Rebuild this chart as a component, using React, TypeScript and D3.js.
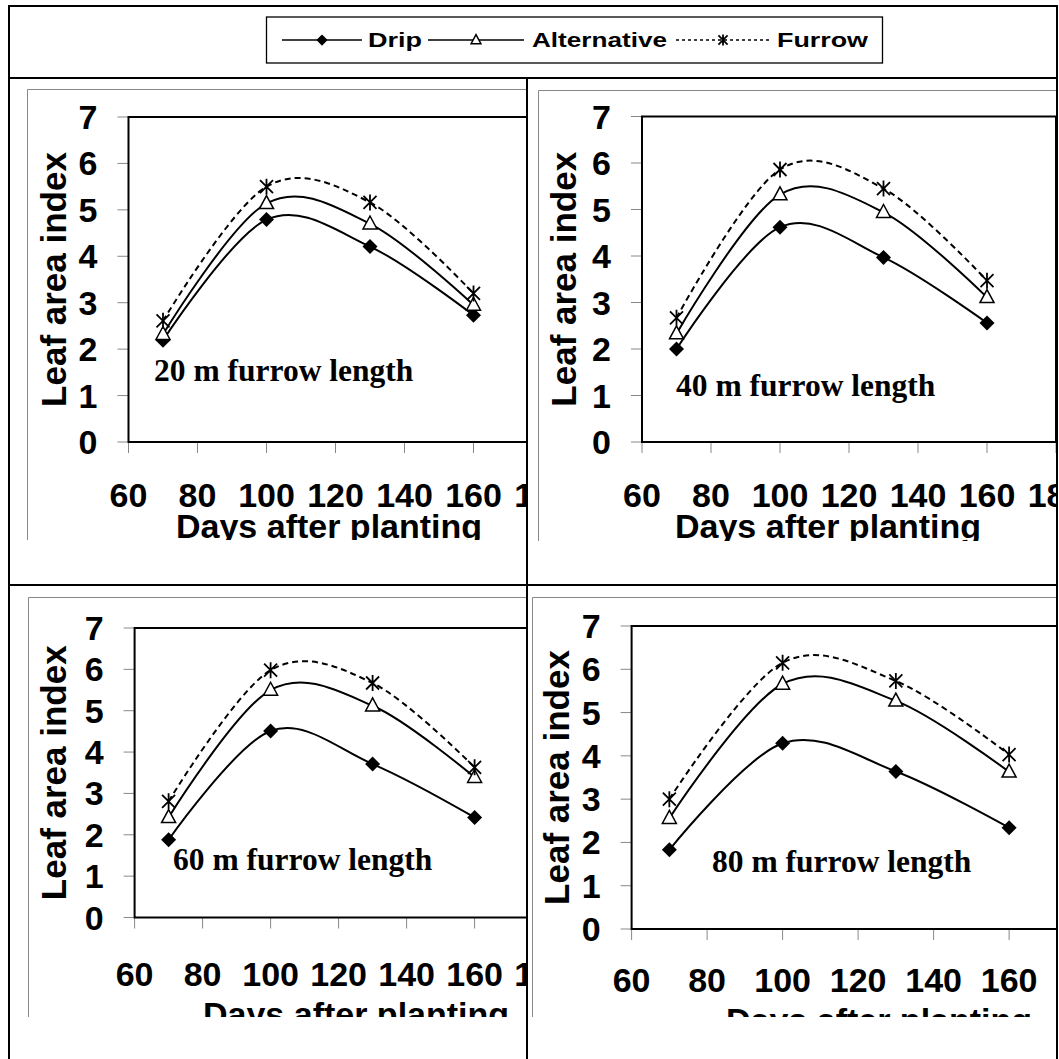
import React from 'react';
import * as d3 from 'd3';

const days = [70, 100, 130, 160];
const xTickValues = [60, 80, 100, 120, 140, 160, 180];
const yTickValues = [0, 1, 2, 3, 4, 5, 6, 7];
const seriesNames = ['Drip', 'Alternative', 'Furrow'];
const panelTitles = ['20 m furrow length', '40 m furrow length', '60 m furrow length', '80 m furrow length'];
const xAxisTitle = 'Days after planting';
const yAxisTitle = 'Leaf area index';

const drip20 = [2.19, 4.79, 4.21, 2.73];
const alt20 = [2.32, 5.14, 4.7, 2.95];
const furrow20 = [2.61, 5.5, 5.16, 3.2];
const drip40 = [2.0, 4.62, 3.97, 2.56];
const alt40 = [2.33, 5.32, 4.94, 3.11];
const furrow40 = [2.67, 5.86, 5.45, 3.47];
const drip60 = [1.88, 4.51, 3.71, 2.42];
const alt60 = [2.42, 5.5, 5.12, 3.39];
const furrow60 = [2.81, 5.98, 5.67, 3.63];
const drip80 = [1.83, 4.29, 3.64, 2.34];
const alt80 = [2.56, 5.66, 5.27, 3.63];
const furrow80 = [3.0, 6.15, 5.73, 4.03];

const panelSeries = [
  [drip20, alt20, furrow20],
  [drip40, alt40, furrow40],
  [drip60, alt60, furrow60],
  [drip80, alt80, furrow80],
];

const layouts = [
  { cellRight: 526, frameX: 27.5, frameY: 89.5, frameBottom: 540, plotLeft: 128.5, plotTop: 117, plotBottom: 442, px20: 69, yTitleX: 66, tickLabelY: 507, xTitleX: 176, xTitleY: 538, titleX: 154, titleY: 381 },
  { cellRight: 1056, frameX: 538.5, frameY: 90.5, frameBottom: 541, plotLeft: 642, plotTop: 116.5, plotBottom: 442, px20: 69, yTitleX: 576, tickLabelY: 507, xTitleX: 675, xTitleY: 538, titleX: 676, titleY: 396 },
  { cellRight: 526, frameX: 28.5, frameY: 597.5, frameBottom: 1017, plotLeft: 134.6, plotTop: 628, plotBottom: 917.5, px20: 68, yTitleX: 66, tickLabelY: 986, xTitleX: 203, xTitleY: 1026, titleX: 173, titleY: 870 },
  { cellRight: 1056, frameX: 532.5, frameY: 597.5, frameBottom: 1017, plotLeft: 631.6, plotTop: 626, plotBottom: 929, px20: 75.5, yTitleX: 569, tickLabelY: 992, xTitleX: 726, xTitleY: 1032, titleX: 712, titleY: 872 },
];

const SANS = '"Liberation Sans", Arial, sans-serif';
const SERIF = '"Liberation Serif", "Times New Roman", serif';

function Marker({ kind, x, y, s = 1 }: { kind: number; x: number; y: number; s?: number }) {
  if (kind === 0) {
    const r = 7.5 * s;
    return <path d={`M${x},${y - r}L${x + r},${y}L${x},${y + r}L${x - r},${y}Z`} fill="#000" />;
  }
  if (kind === 1) {
    const w = 7 * s;
    const h = 13 * s;
    return (
      <path
        d={`M${x},${y - h * 0.6}L${x + w},${y + h * 0.4}L${x - w},${y + h * 0.4}Z`}
        fill="#fff"
        stroke="#000"
        strokeWidth={1.5}
      />
    );
  }
  const a = 6.5 * s;
  const b = 8 * s;
  return (
    <path
      d={`M${x - a},${y - a}L${x + a},${y + a}M${x - a},${y + a}L${x + a},${y - a}M${x},${y - b}L${x},${y + b}`}
      stroke="#000"
      strokeWidth={1.8}
      fill="none"
    />
  );
}

function Panel({ idx }: { idx: number }) {
  const L = layouts[idx];
  const x = d3.scaleLinear().domain([60, 180]).range([L.plotLeft, L.plotLeft + 6 * L.px20]);
  const y = d3.scaleLinear().domain([0, 7]).range([L.plotBottom, L.plotTop]);
  const line = d3
    .line<number>()
    .x((_, i) => x(days[i]))
    .y((v) => y(v))
    .curve(d3.curveCardinal.tension(0));
  const clipId = `clip${idx}`;
  const series = panelSeries[idx];
  return (
    <g>
      <clipPath id={clipId}>
        <rect x={L.frameX - 1} y={L.frameY - 1} width={L.cellRight - L.frameX + 1} height={L.frameBottom - L.frameY + 1} />
      </clipPath>
      <g clipPath={`url(#${clipId})`}>
        <line x1={L.frameX} y1={L.frameY} x2={L.cellRight + 5} y2={L.frameY} stroke="#888" strokeWidth={1} />
        <line x1={L.frameX} y1={L.frameY} x2={L.frameX} y2={L.frameBottom} stroke="#888" strokeWidth={1} />
        {yTickValues.map((t) => (
          <line key={'yt' + t} x1={L.plotLeft - 11} x2={L.plotLeft} y1={y(t)} y2={y(t)} stroke="#888" strokeWidth={1} />
        ))}
        {xTickValues.map((t) => (
          <line key={'xt' + t} x1={x(t)} x2={x(t)} y1={L.plotBottom} y2={L.plotBottom + 11} stroke="#888" strokeWidth={1} />
        ))}
        <rect
          x={x(60)}
          y={y(7)}
          width={x(180) - x(60)}
          height={y(0) - y(7)}
          fill="none"
          stroke="#000"
          strokeWidth={2}
        />
        {series.map((vals, si) => (
          <path
            key={'l' + si}
            d={line(vals) || ''}
            fill="none"
            stroke="#000"
            strokeWidth={2}
            strokeDasharray={si === 2 ? '6,4' : undefined}
          />
        ))}
        {series.map((vals, si) =>
          vals.map((v, i) => <Marker key={`m${si}-${i}`} kind={si} x={x(days[i])} y={y(v)} />)
        )}
        {yTickValues.map((t) => (
          <text
            key={'yl' + t}
            x={L.plotLeft - 31}
            y={y(t) + 12}
            textAnchor="end"
            fontFamily={SANS}
            fontWeight="bold"
            fontSize={34}
          >
            {t}
          </text>
        ))}
        {xTickValues.map((t) => (
          <text
            key={'xl' + t}
            x={x(t)}
            y={L.tickLabelY}
            textAnchor="middle"
            fontFamily={SANS}
            fontWeight="bold"
            fontSize={34}
          >
            {t}
          </text>
        ))}
        <text
          transform={`translate(${L.yTitleX},${(L.plotTop + L.plotBottom) / 2}) rotate(-90)`}
          textAnchor="middle"
          fontFamily={SANS}
          fontWeight="bold"
          fontSize={35}
        >
          {yAxisTitle}
        </text>
        <text x={L.xTitleX} y={L.xTitleY} fontFamily={SANS} fontWeight="bold" fontSize={34}>
          {xAxisTitle}
        </text>
        <text x={L.titleX} y={L.titleY} fontFamily={SERIF} fontWeight="bold" fontSize={31.5}>
          {panelTitles[idx]}
        </text>
      </g>
    </g>
  );
}

const legendLines = [
  { x1: 282, x2: 362, mx: 322, tx: 368, tw: 54 },
  { x1: 428, x2: 524, mx: 476, tx: 532, tw: 135 },
  { x1: 676, x2: 770, mx: 723, tx: 777, tw: 91 },
];

export default function App() {
  return (
    <svg
      width={1059}
      height={1059}
      style={{ position: 'absolute', left: 0, top: 0, background: '#fff' }}
    >
      <rect x={0} y={0} width={1059} height={1059} fill="#fff" />
      {[0, 1, 2, 3].map((i) => (
        <Panel key={i} idx={i} />
      ))}
      <line x1={9} y1={6} x2={1057} y2={6} stroke="#000" strokeWidth={2} />
      <line x1={9} y1={5} x2={9} y2={1059} stroke="#000" strokeWidth={2} />
      <line x1={1057} y1={5} x2={1057} y2={1059} stroke="#000" strokeWidth={2} />
      <line x1={9} y1={78} x2={1057} y2={78} stroke="#000" strokeWidth={2} />
      <line x1={9} y1={585} x2={1057} y2={585} stroke="#000" strokeWidth={2} />
      <line x1={527} y1={78} x2={527} y2={1059} stroke="#000" strokeWidth={2} />
      <rect x={266.5} y={17} width={616} height={46} fill="#fff" stroke="#000" strokeWidth={1.3} />
      {seriesNames.map((name, i) => {
        const l = legendLines[i];
        return (
          <g key={name}>
            <line
              x1={l.x1}
              x2={l.x2}
              y1={40}
              y2={40}
              stroke="#000"
              strokeWidth={1.5}
              strokeDasharray={i === 2 ? '3,3' : undefined}
            />
            <Marker kind={i} x={l.mx} y={40} s={i === 0 ? 0.75 : 0.7} />
            <text
              x={l.tx}
              y={47}
              fontFamily={SANS}
              fontWeight="bold"
              fontSize={19.5}
              textLength={l.tw}
              lengthAdjust="spacingAndGlyphs"
            >
              {name}
            </text>
          </g>
        );
      })}
    </svg>
  );
}
